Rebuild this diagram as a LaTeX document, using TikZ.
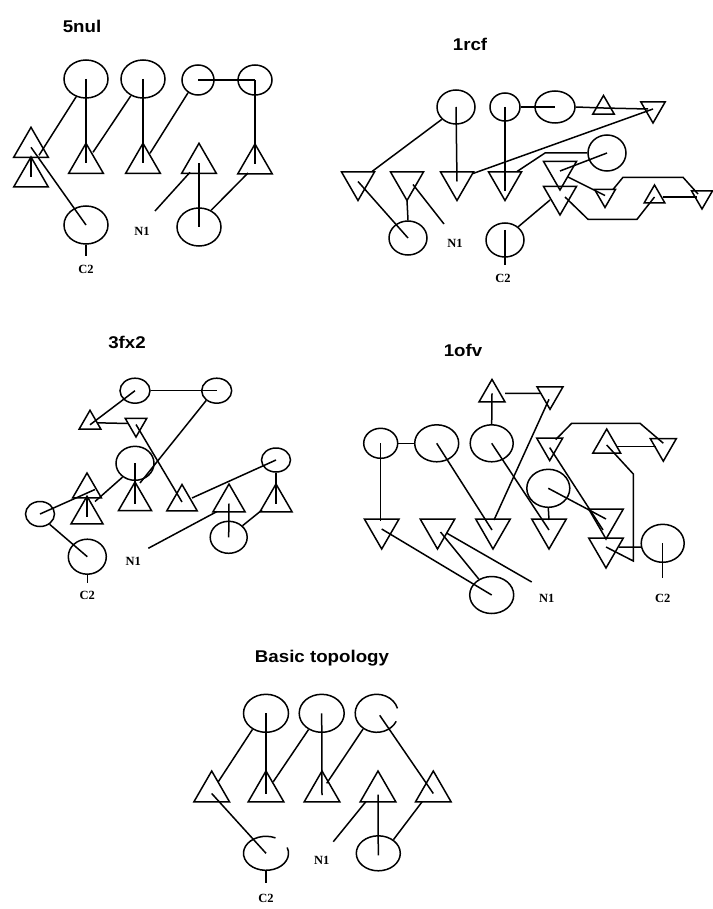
\documentclass[tikz,border=0pt]{standalone}
\usepackage{fontspec}
\newfontfamily\ttlfont[FakeStretch=1.1]{Liberation Sans}
\newfontfamily\lblfont{Liberation Serif}
\usetikzlibrary{shapes.geometric,calc}
\begin{document}
\begin{tikzpicture}[x=1pt,y=-1pt,line width=1.5pt,
  cir/.style 2 args={draw,ellipse,inner sep=0pt,minimum width=#1,minimum height=#2},
  triup/.style={draw,regular polygon,regular polygon sides=3,inner sep=0pt,minimum size=#1},
  tridn/.style={triup=#1,shape border rotate=180},
  ttl/.style={font=\ttlfont\bfseries\fontsize{17}{17}\selectfont,inner sep=0pt},
  lbl/.style={font=\lblfont\bfseries\fontsize{12.5}{13}\selectfont,inner sep=0pt}]
\fill[white] (0,0) rectangle (712,909);
\useasboundingbox (0,0) rectangle (712,909);

% ---------------- 5nul ----------------
\node[ttl] (h5nul) at (82,26) {5nul};
\node[cir={44}{38}] (a1) at (86,79) {};
\node[cir={44}{38}] (a2) at (143,79) {};
\node[cir={32}{30}] (a3) at (198,80) {};
\node[cir={34}{30}] (a4) at (255,80) {};
\node[cir={44}{38}] (a5) at (86,225) {};
\node[cir={44}{38}] (a6) at (199,227) {};
\node[triup=40] (b1) at (31,147.3) {};
\node[triup=40] (b1x) at (31,177) {};
\node[triup=40] (b2) at (86,163.3) {};
\node[triup=40] (b3) at (143,163.3) {};
\node[triup=40] (b4) at (199,163.3) {};
\node[triup=40] (b5) at (255,164) {};
\node[lbl] (n1a) at (142,231) {N1};
\node[lbl] (c2a) at (86,269) {C2};
\coordinate (n1enda) at (155,211);
\coordinate (c2enda) at (86,256);
\draw (a1.center) -- (b2.center);
\draw (a1.241) -- ($(b1)+(8,8)$);
\draw (a2.center) -- (b3.center);
\draw (a2.234) -- ($(b2)+(7,-11)$);
\draw (a3.232) -- ($(b3)+(7,-10)$);
\draw (a3.center) -- (a4.center);
\draw (a4.center) -- (b5.center);
\draw (b1.center) -- (a5.center);
\draw ($(b1x)+(0,-20)$) -- (b1x.center);
\draw (n1enda) -- ($(b4)+(-9,9)$);
\draw (a6.center) -- (b4.center);
\draw (a6.54) -- ($(b5)+(-7,9)$);
\draw (a5.south) -- (c2enda);

% ---------------- 1rcf ----------------
\node[ttl] (h1rcf) at (470,44) {1rcf};
\node[cir={38}{34}] (c1) at (456,107) {};
\node[cir={30}{28}] (c2) at (505,107) {};
\node[cir={40}{32}] (c3) at (555,107) {};
\node[cir={38}{36}] (c4) at (607,153) {};
\node[cir={38}{34}] (c5) at (408,238) {};
\node[cir={38}{34}] (c6) at (505,240) {};
\node[tridn=38] (d1) at (358,181.5) {};
\node[tridn=38] (d2) at (407,181.5) {};
\node[tridn=38] (d3) at (457,181.5) {};
\node[tridn=38] (d4) at (505,181.5) {};
\node[tridn=38] (d5) at (560,171) {};
\node[tridn=38] (d6) at (560,196) {};
\node[tridn=24] (d7) at (605,195.5) {};
\node[triup=24] (u1) at (654.5,197) {};
\node[tridn=24] (d8) at (702,197) {};
\node[triup=25] (u2) at (603.5,108) {};
\node[tridn=28] (d9) at (653,109) {};
\node[lbl] (n1b) at (455,243) {N1};
\node[lbl] (c2b) at (503,278) {C2};
\coordinate (n1endb) at (444,224);
\coordinate (c2endb) at (505,265);
\draw (c1.center) -- (d3.center);
\draw (c1.221) -- ($(d1)+(14,-10)$);
\draw (c2.center) -- ($(d4)+(0,10)$);
\draw (c2.east) -- (c3.center);
\draw (c3.east) -- (u2.center) -- ($(d9)+(-5,0)$);
\draw ($(d3)+(16,-8)$) -- (d9.center);
\draw ($(d4)+(12,-10)$) -- (545,153) -- (c4.west);
\draw (d5.center) -- (c4.center);
\draw ($(d5)+(8,6)$) -- (d7.center);
\draw ($(d7)+(8,-6)$) -- (623,177.3) -- (683,177.3) -- ($(d8)+(-4,-3)$);
\draw ($(d6)+(-10,4)$) -- (c6.45);
\draw ($(d6)+(5,1)$) -- (588,219.3) -- (637,219.3) -- (u1.center);
\draw ($(u1)+(8,0)$) -- ($(d8)+(-5,0)$);
\draw (d1.center) -- (c5.center);
\draw ($(d2)+(0,19)$) -- (c5.north);
\draw ($(d2)+(6,3)$) -- (n1endb);
\draw ($(c6)+(0,-10)$) -- (c2endb);

% ---------------- 3fx2 ----------------
\node[ttl] (h3fx2) at (127,342) {3fx2};
\node[cir={30}{25}] (e1) at (135,390.7) {};
\node[cir={30}{25}] (e2) at (216.7,390.7) {};
\node[cir={38}{34}] (e3) at (135,463.3) {};
\node[cir={29}{24}] (e4) at (276,460) {};
\node[cir={29}{25}] (e5) at (40,514) {};
\node[cir={38}{35}] (e6) at (87.3,556.7) {};
\node[cir={37}{32}] (e7) at (228.7,537.3) {};
\node[triup=25] (f1) at (90,422.8) {};
\node[tridn=25] (f2) at (136,424.5) {};
\node[triup=33] (f3) at (87,489.5) {};
\node[triup=37] (f4) at (87,514.7) {};
\node[triup=38] (f5) at (135,501) {};
\node[triup=35] (f6) at (182,502) {};
\node[triup=37] (f7) at (229,502.5) {};
\node[triup=37] (f8) at (276,502.5) {};
\node[lbl] (n1c) at (133.3,561.7) {N1};
\node[lbl] (c2c) at (87.3,595) {C2};
\coordinate (n1endc) at (148.3,548.3);
\coordinate (c2endc) at (87.3,583.3);
\draw (e1.center) -- ($(f1)+(0,2)$);
\draw (e1.east) -- (e2.center);
\draw ($(f1)+(7,0)$) -- ($(f2)+(-8,-1)$);
\draw (f2.center) -- (f6.center);
\draw (e2.223) -- ($(f5)+(5,-18)$);
\draw (e3.center) -- ($(f5)+(0,3)$);
\draw (e3.228) -- ($(f3)+(8,12)$);
\draw (e5.center) -- ($(f3)+(8,0)$);
\draw ($(f4)+(0,-17)$) -- ($(f4)+(0,2)$);
\draw (e5.-47) -- (e6.center);
\draw (e6.south) -- (c2endc);
\draw ($(f6)+(10,-4)$) -- (e4.center);
\draw (e4.south) -- ($(f8)+(0,1)$);
\draw (e7.center) -- ($(f7)+(0,1)$);
\draw (e7.40) -- ($(f8)+(-14,7.5)$);
\draw (n1endc) -- ($(f7)+(-12,9)$);

% ---------------- 1ofv ----------------
\node[ttl] (h1ofv) at (463,350) {1ofv};
\node[cir={34}{30}] (g1) at (380.7,443.3) {};
\node[cir={44}{37}] (g2) at (436.7,443.3) {};
\node[cir={43}{37}] (g3) at (491.7,443.3) {};
\node[cir={43}{38}] (g4) at (548.3,488.3) {};
\node[cir={44}{37}] (g5) at (491.7,595) {};
\node[cir={43}{38}] (g6) at (662.7,543.3) {};
\node[tridn=40] (k1d) at (381.7,529) {};
\node[tridn=40] (k2d) at (437.5,529) {};
\node[tridn=40] (k3d) at (493,529) {};
\node[tridn=40] (k4d) at (549,529) {};
\node[tridn=40] (k5d) at (606,519) {};
\node[tridn=40] (k6d) at (606,548) {};
\node[tridn=30] (k7d) at (549.7,445.6) {};
\node[tridn=30] (k8d) at (550,394.3) {};
\node[triup=30] (k1u) at (492,394.4) {};
\node[triup=32] (k2u) at (606.7,445) {};
\node[tridn=30] (k9d) at (663.3,446.2) {};
\node[lbl] (n1d) at (546.7,598.3) {N1};
\node[lbl] (c2d) at (662.7,598.3) {C2};
\coordinate (n1endd) at (531.7,582);
\coordinate (c2endd) at (662.7,578.3);
\draw (g1.east) -- (g2.west);
\draw (g1.center) -- ($(k1d)+(-1,-8)$);
\draw (g2.center) -- ($(k3d)+(-1,1)$);
\draw (g3.north) -- ($(k1u)+(0,-1)$);
\draw ($(k1u)+(13,-1)$) -- ($(k8d)+(-10,-1)$);
\draw ($(k8d)+(-1,5)$) -- ($(k3d)+(1,-9)$);
\draw (g3.center) -- ($(k4d)+(0,1)$);
\draw ($(k7d)+(6,-6)$) -- (571.7,423.3) -- (640,423.3) -- ($(k9d)+(0,-3)$);
\draw ($(k7d)+(0,2)$) -- ($(k5d)+(-3,11)$);
\draw (g4.south) -- ($(k4d)+(0,-9)$);
\draw (g4.center) -- (k5d.center);
\draw ($(k6d)+(0,-1)$) -- (633.3,561) -- (633.3,474) -- (k2u.center);
\draw ($(k6d)+(13,-1)$) -- (g6.190);
\draw ($(k2u)+(10,1.7)$) -- ($(k9d)+(-7,0.5)$);
\draw (g6.center) -- (c2endd);
\draw (k1d.center) -- (g5.center);
\draw ($(k2d)+(3,3)$) -- (g5.129);
\draw ($(k2d)+(9,4)$) -- (n1endd);

% ---------------- Basic topology ----------------
\node[ttl] (hbasic) at (322,658) {Basic topology};
\node[cir={45}{38}] (p1) at (266,713.3) {};
\node[cir={45}{38}] (p2) at (321.7,713.3) {};
\node[ellipse,inner sep=0pt,minimum width=43,minimum height=38] (p3) at (376.7,713.3) {};
\node[ellipse,inner sep=0pt,minimum width=45,minimum height=34] (p4) at (266,853.3) {};
\node[cir={44}{35}] (p5) at (378.3,853.3) {};
% two of the rings are left open
\draw ($(p3)+({21.5*cos(25)},{19*sin(25)})$) arc[start angle=25,end angle=345,x radius=21.5,y radius=19];
\draw ($(p4)+({22.5*cos(-20)},{17*sin(-20)})$) arc[start angle=-20,end angle=295,x radius=22.5,y radius=17];
\node[triup=41] (q1) at (211.7,791.5) {};
\node[triup=41] (q2) at (266,791.5) {};
\node[triup=41] (q3) at (322,791.5) {};
\node[triup=41] (q4) at (378,791.5) {};
\node[triup=41] (q5) at (433.3,791.5) {};
\node[lbl] (n1e) at (321.7,860) {N1};
\node[lbl] (c2e) at (266,898.3) {C2};
\coordinate (n1ende) at (333.3,841.7);
\coordinate (c2ende) at (266,883.3);
\draw (p1.center) -- ($(q2)+(0,2)$);
\draw (p1.230) -- ($(q1)+(6.6,-9.8)$);
\draw (p2.center) -- ($(q3)+(0,3.5)$);
\draw (p2.231) -- ($(q2)+(7.3,-9.8)$);
\draw (p3.229) -- ($(q3)+(4.7,-8.2)$);
\draw ($(p3)+(3,2)$) -- ($(q5)+(0,2)$);
\draw ($(q1)+(0,2)$) -- (p4.center);
\draw (p4.south) -- (c2ende);
\draw (n1ende) -- ($(q4)+(-12,10)$);
\draw ($(p5)+(0,2)$) -- ($(q4)+(0,3)$);
\draw (p5.42) -- ($(q5)+(-11,10)$);
\end{tikzpicture}
\end{document}
